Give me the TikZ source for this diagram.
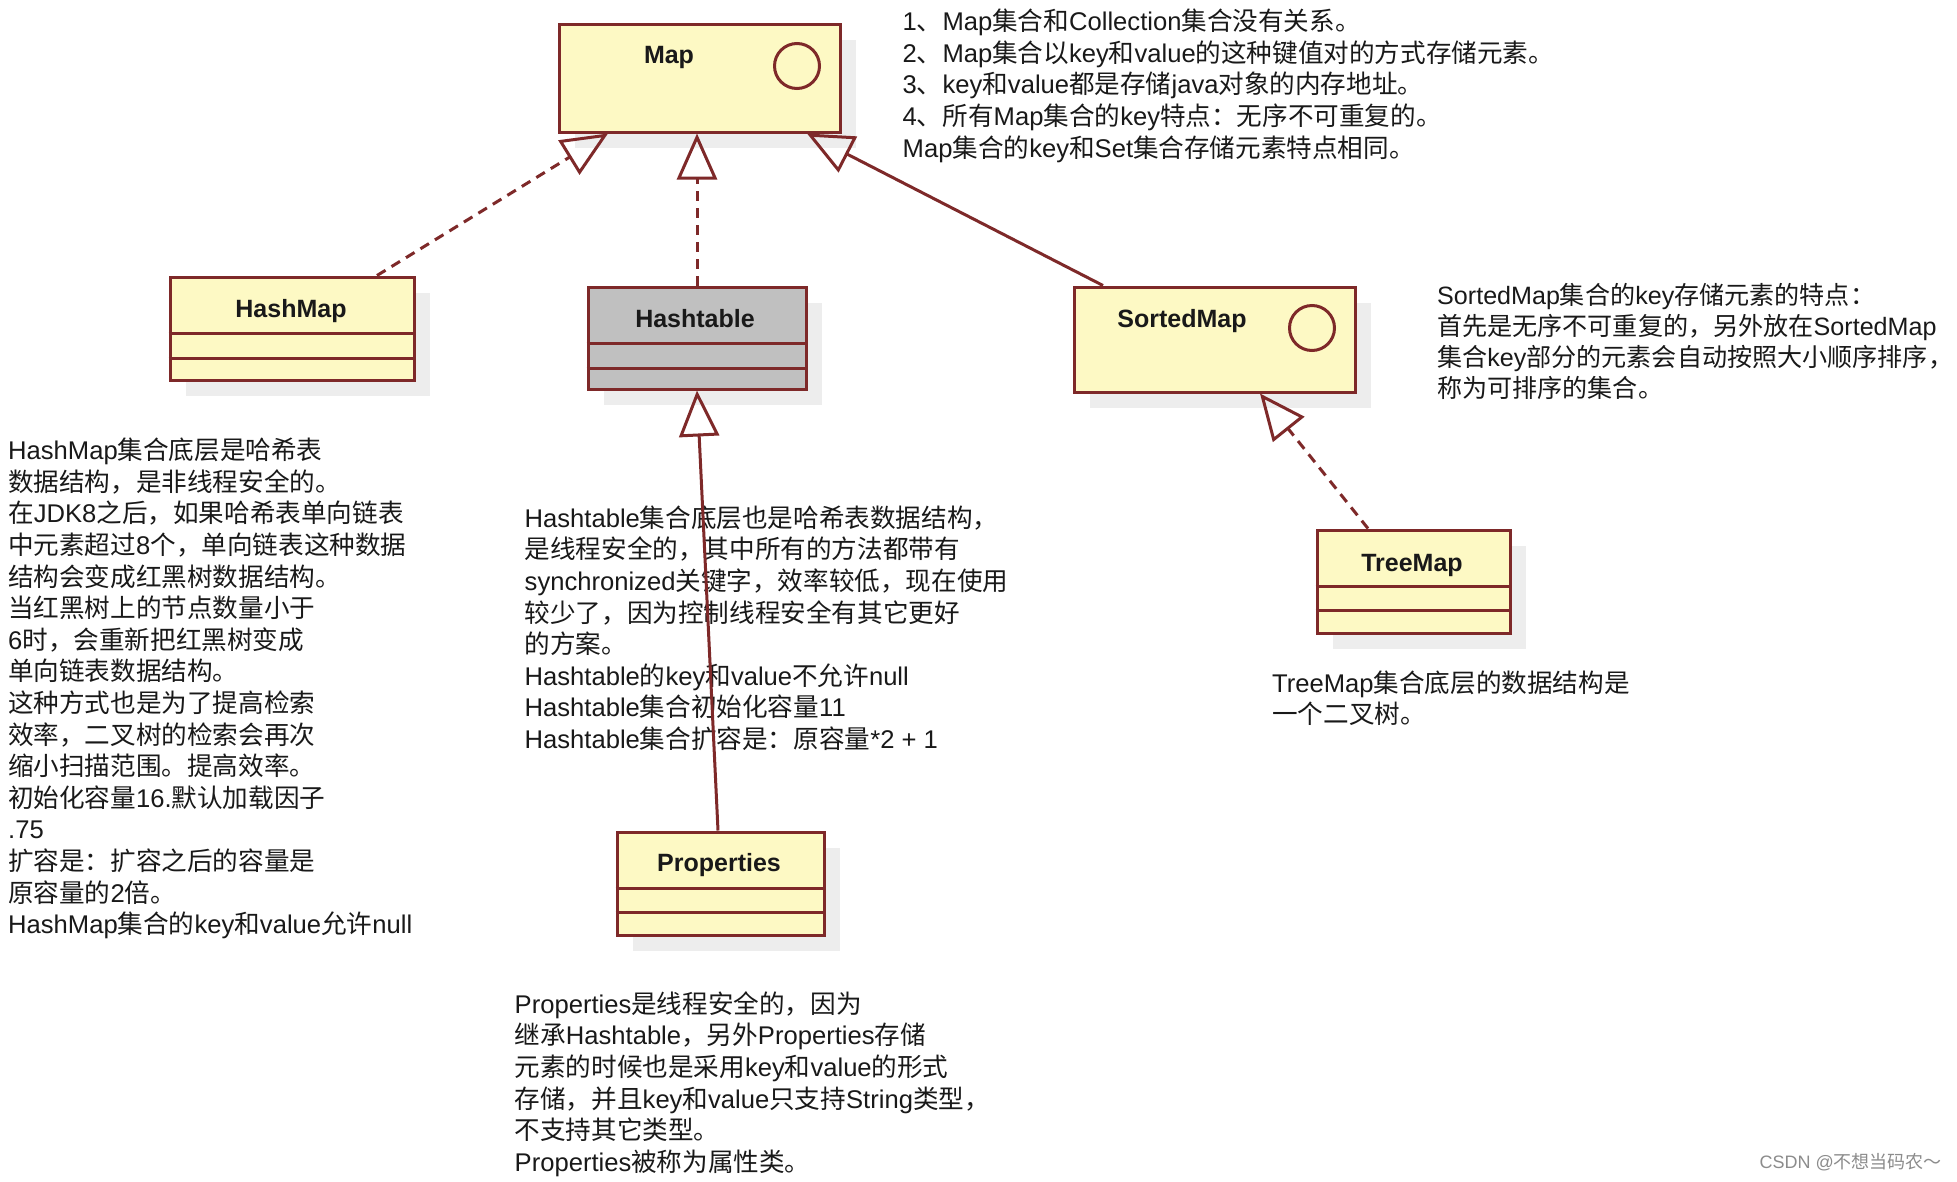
\documentclass[tikz,border=0pt]{standalone}
\usepackage{fontspec}
\setmainfont{Liberation Sans}
\newfontfamily\cjkfont{Noto Sans CJK SC}
\usetikzlibrary{arrows.meta,calc,shadows}

% --- switch to the CJK font for CJK characters (xeCJK-like, by hand) ---
\newXeTeXintercharclass\cjkcharclass
\makeatletter
\count@="3000
\loop \XeTeXcharclass\count@=\cjkcharclass \advance\count@ by 1 \ifnum\count@<"3040 \repeat
\count@="4E00
\loop \XeTeXcharclass\count@=\cjkcharclass \advance\count@ by 1 \ifnum\count@<"A000 \repeat
\count@="FF00
\loop \XeTeXcharclass\count@=\cjkcharclass \advance\count@ by 1 \ifnum\count@<"FFF0 \repeat
\makeatother
\XeTeXinterchartoks 0 \cjkcharclass = {\cjkfont}
\XeTeXinterchartoks \cjkcharclass 0 = {\rmfamily}
\XeTeXinterchartoks 4095 \cjkcharclass = {\cjkfont}
\XeTeXinterchartoks 4095 0 = {\rmfamily}

\definecolor{umlred}{RGB}{126,41,41}
\definecolor{umlyellow}{RGB}{253,249,196}
\definecolor{umlgray}{RGB}{192,192,192}

\tikzset{
  classbox/.style={draw=umlred, line width=3pt, fill=umlyellow, inner sep=0pt,
    drop shadow={shadow xshift=16pt, shadow yshift=-16pt, fill=black!7, opacity=1}},
  classname/.style={anchor=base, inner sep=0pt, text=black!90,
    font=\bfseries\fontsize{25}{30}\selectfont},
  divider/.style={draw=umlred, line width=3pt},
  ifaceicon/.style={circle, draw=umlred, line width=3pt, minimum size=45pt, inner sep=0pt},
  note/.style={anchor=north west, inner sep=0pt, align=left, text=black!90,
    font=\fontsize{25.6}{31.6}\selectfont},
  gen/.style={draw=umlred, line width=3pt, -{Triangle[open,length=46pt,width=40pt]}},
  realize/.style={gen, dash pattern=on 10pt off 7pt},
}
\newcommand{\topstrut}{\rule{0pt}{24pt}}

\begin{document}
\begin{tikzpicture}[x=1pt,y=-1pt]
\XeTeXinterchartokenstate=1
\fill[white] (0,0) rectangle (1957,1181);
\useasboundingbox (0,0) rectangle (1957,1181);

% ---------------- classes ----------------
\node[classbox, minimum width=281pt, minimum height=108pt] (map) at (699.5,78) {};
\node[classname] (mapname) at (669,63) {Map};
\node[ifaceicon] (mapicon) at (797,66) {};

\node[classbox, minimum width=244pt, minimum height=103pt] (hashmap) at (292,328.5) {};
\node[classname] (hashmapname) at (291,317) {HashMap};
\draw[divider] (hashmap.west |- 0,333) -- (hashmap.east |- 0,333);
\draw[divider] (hashmap.west |- 0,358) -- (hashmap.east |- 0,358);

\node[classbox, fill=umlgray, minimum width=218pt, minimum height=102pt] (hashtable) at (697,338) {};
\node[classname] (hashtablename) at (695,327) {Hashtable};
\draw[divider] (hashtable.west |- 0,343) -- (hashtable.east |- 0,343);
\draw[divider] (hashtable.west |- 0,368) -- (hashtable.east |- 0,368);

\node[classbox, minimum width=281pt, minimum height=105pt] (sortedmap) at (1214.5,339.5) {};
\node[classname] (sortedmapname) at (1182,327) {SortedMap};
\node[ifaceicon] (sortedmapicon) at (1312,328) {};

\node[classbox, minimum width=193pt, minimum height=103pt] (treemap) at (1413.5,581.5) {};
\node[classname] (treemapname) at (1412,571) {TreeMap};
\draw[divider] (treemap.west |- 0,586) -- (treemap.east |- 0,586);
\draw[divider] (treemap.west |- 0,610) -- (treemap.east |- 0,610);

\node[classbox, minimum width=207pt, minimum height=103pt] (properties) at (720.5,883.5) {};
\node[classname] (propertiesname) at (719,871) {Properties};
\draw[divider] (properties.west |- 0,888) -- (properties.east |- 0,888);
\draw[divider] (properties.west |- 0,912) -- (properties.east |- 0,912);

% ---------------- notes ----------------
\node[note] (mapnote) at (902.5,6.5) {\topstrut 1、Map集合和Collection集合没有关系。\\
2、Map集合以key和value的这种键值对的方式存储元素。\\
3、key和value都是存储java对象的内存地址。\\
4、所有Map集合的key特点：无序不可重复的。\\
Map集合的key和Set集合存储元素特点相同。};

\node[note, font=\fontsize{25.1}{31.2}\selectfont] (sortedmapnote) at (1437,280) {\topstrut SortedMap集合的key存储元素的特点：\\
首先是无序不可重复的，另外放在SortedMap\\
集合key部分的元素会自动按照大小顺序排序，\\
称为可排序的集合。};

\node[note] (hashmapnote) at (8,435.5) {\topstrut HashMap集合底层是哈希表\\
数据结构，是非线程安全的。\\
在JDK8之后，如果哈希表单向链表\\
中元素超过8个，单向链表这种数据\\
结构会变成红黑树数据结构。\\
当红黑树上的节点数量小于\\
6时，会重新把红黑树变成\\
单向链表数据结构。\\
这种方式也是为了提高检索\\
效率，二叉树的检索会再次\\
缩小扫描范围。提高效率。\\
初始化容量16.默认加载因子\\
.75\\
扩容是：扩容之后的容量是\\
原容量的2倍。\\
HashMap集合的key和value允许null};

\node[note] (hashtablenote) at (524.5,503) {\topstrut Hashtable集合底层也是哈希表数据结构，\\
是线程安全的，其中所有的方法都带有\\
synchronized关键字，效率较低，现在使用\\
较少了，因为控制线程安全有其它更好\\
的方案。\\
Hashtable的key和value不允许null\\
Hashtable集合初始化容量11\\
Hashtable集合扩容是：原容量*2 + 1};

\node[note] (treemapnote) at (1272,668) {\topstrut TreeMap集合底层的数据结构是\\
一个二叉树。};

\node[note] (propertiesnote) at (514.5,989) {\topstrut Properties是线程安全的，因为\\
继承Hashtable，另外Properties存储\\
元素的时候也是采用key和value的形式\\
存储，并且key和value只支持String类型，\\
不支持其它类型。\\
Properties被称为属性类。};

\node[anchor=base east, inner sep=0pt, text=black!45, font=\fontsize{18}{20}\selectfont]
  (csdn) at (1942,1168) {CSDN @不想当码农～};

% ---------------- connectors ----------------
\draw[realize] ($(hashmap.north)+(85,0)$) -- ($(map.south)+(-91.5,0)$);
\draw[realize] (hashtable.north) -- (hashtable.north |- map.south);
\draw[gen] ($(sortedmap.north)+(-111.5,0)$) -- ($(map.south)+(107.5,0)$);
\draw[gen] ($(properties.north)+(-2.5,0)$) -- (hashtable.south);
\draw[realize] ($(treemap.north)+(-45.5,0)$) -- ($(sortedmap.south)+(45.5,0)$);
\end{tikzpicture}
\end{document}
